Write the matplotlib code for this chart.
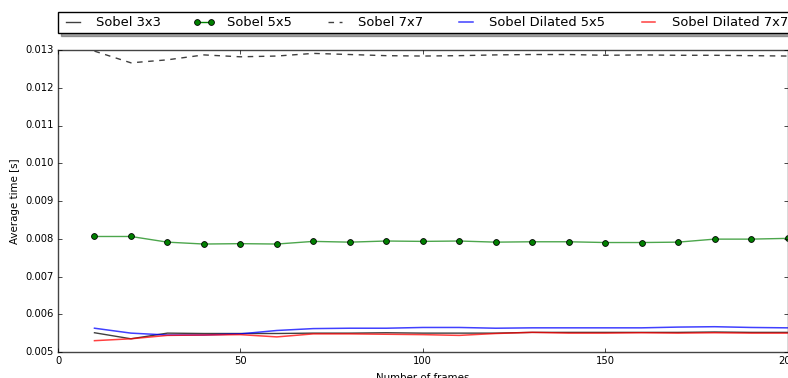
import matplotlib
matplotlib.use("Agg")
import matplotlib.pyplot as plt

# Average processing time per frame count for each edge filter
frames = [10, 20, 30, 40, 50, 60, 70, 80, 90, 100,
          110, 120, 130, 140, 150, 160, 170, 180, 190, 200]

sobel_3x3 = [0.00551, 0.00535, 0.00550, 0.00549, 0.00549, 0.00549, 0.00550, 0.00550, 0.00551, 0.00550,
             0.00550, 0.00550, 0.00552, 0.00552, 0.00552, 0.00552, 0.00552, 0.00553, 0.00552, 0.00552]
sobel_5x5 = [0.00806, 0.00806, 0.00791, 0.00786, 0.00787, 0.00786, 0.00793, 0.00791, 0.00794, 0.00793,
             0.00794, 0.00791, 0.00792, 0.00792, 0.00790, 0.00790, 0.00791, 0.00799, 0.00799, 0.00801]
sobel_7x7 = [0.01297, 0.01266, 0.01274, 0.01287, 0.01282, 0.01284, 0.01291, 0.01288, 0.01285, 0.01284,
             0.01285, 0.01287, 0.01288, 0.01288, 0.01286, 0.01287, 0.01286, 0.01286, 0.01285, 0.01284]
dilated_5x5 = [0.00563, 0.00550, 0.00545, 0.00545, 0.00548, 0.00557, 0.00562, 0.00563, 0.00563, 0.00565,
               0.00565, 0.00563, 0.00564, 0.00564, 0.00564, 0.00564, 0.00566, 0.00567, 0.00565, 0.00564]
dilated_7x7 = [0.00530, 0.00535, 0.00544, 0.00545, 0.00546, 0.00540, 0.00548, 0.00548, 0.00547, 0.00546,
               0.00544, 0.00549, 0.00552, 0.00550, 0.00550, 0.00551, 0.00550, 0.00551, 0.00550, 0.00550]

x_ticks = [0, 50, 100, 150, 200]
y_ticks = [0.005, 0.006, 0.007, 0.008, 0.009, 0.010, 0.011, 0.012, 0.013]

plt.style.use("classic")
plt.rcParams["font.family"] = ["DejaVu Sans"]

fig = plt.figure(figsize=(7.88, 3.78), dpi=100, facecolor="white")
ax = fig.add_axes([58 / 788, 26 / 378, 729.5 / 788, 302 / 378])

ax.plot(frames, sobel_3x3, color="k", lw=1.0, alpha=0.75, label="Sobel 3x3")
ax.plot(frames, sobel_5x5, color="g", lw=1.0, alpha=0.7, label="Sobel 5x5")
ax.plot(frames, sobel_5x5, color="g", lw=0, marker="o", markersize=4.2,
        markeredgecolor="k", markeredgewidth=0.6)
ax.plot(frames, sobel_7x7, color="k", lw=1.0, alpha=0.75, dashes=(4, 4), label="Sobel 7x7")
ax.plot(frames, dilated_5x5, color="b", lw=1.1, alpha=0.75, label="Sobel Dilated 5x5")
ax.plot(frames, dilated_7x7, color="r", lw=1.1, alpha=0.75, label="Sobel Dilated 7x7")

# legend handle for the 5x5 series shows line and markers together
handles, labels = ax.get_legend_handles_labels()
h5 = matplotlib.lines.Line2D([], [], color="g", lw=1.0, marker="o", markersize=4.2,
                             markerfacecolor="g", markeredgecolor="k", markeredgewidth=0.6)
handles[1] = h5

ax.set_xlim(0, 200)
ax.set_ylim(0.005, 0.013)
ax.set_xticks(x_ticks)
ax.set_yticks(y_ticks)
ax.tick_params(labelsize=7.2, length=3, pad=3)
ax.set_xlabel("Number of frames", fontsize=7.4, labelpad=5)
ax.set_ylabel("Average time [s]", fontsize=7.4, labelpad=4)
for s in ax.spines.values():
    s.set_color("#444444")

ax.legend(handles, labels, loc="lower left", bbox_to_anchor=(0.0, 1 + 17 / 302, 1.006, 0.07),
          mode="expand", ncol=5, borderaxespad=0, fontsize=9.4, numpoints=2,
          handlelength=1.65, handletextpad=0.95, borderpad=0.3, shadow=True, fancybox=False)

fig.savefig("out.png", dpi=100, facecolor="white")
